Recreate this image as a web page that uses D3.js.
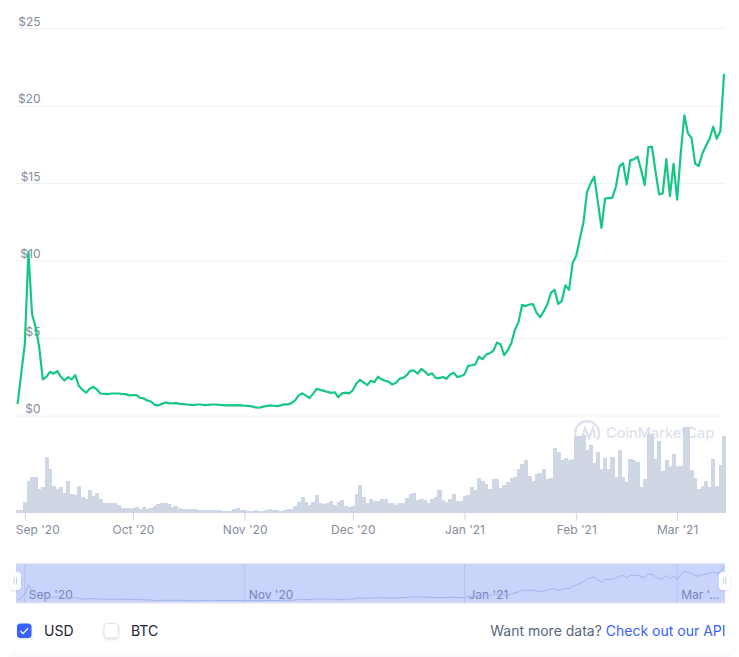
<!DOCTYPE html>
<html>
<head>
<meta charset="utf-8">
<script src="https://cdn.jsdelivr.net/npm/d3@7"></script>
<style>
  html, body { margin: 0; padding: 0; background: #fff; overflow: hidden; }
  text { font-family: Inter, sans-serif; }
</style>
</head>
<body>
<svg id="chart" width="739" height="657"></svg>
<script>
// daily close, USD, starting 30 Aug 2020
const prices = [
  0.75, 2.7, 4.6, 10.55, 6.55, 5.7, 4.4, 2.33, 2.5, 2.82,
  2.7, 2.87, 2.5, 2.26, 2.48, 2.33, 2.6, 1.9, 1.66, 1.47,
  1.72, 1.85, 1.68, 1.42, 1.4, 1.38, 1.42, 1.42, 1.42, 1.38,
  1.38, 1.3, 1.31, 1.31, 1.14, 1.1, 0.97, 0.9, 0.69, 0.65,
  0.75, 0.84, 0.8, 0.78, 0.8, 0.75, 0.73, 0.71, 0.69, 0.69,
  0.71, 0.71, 0.67, 0.69, 0.71, 0.71, 0.69, 0.67, 0.65, 0.67,
  0.65, 0.67, 0.65, 0.63, 0.62, 0.59, 0.52, 0.5, 0.56, 0.61,
  0.65, 0.63, 0.61, 0.65, 0.72, 0.72, 0.8, 0.98, 1.3, 1.43,
  1.28, 1.13, 1.41, 1.72, 1.65, 1.59, 1.52, 1.46, 1.5, 1.17,
  1.43, 1.48, 1.43, 1.63, 2.07, 2.3, 2.13, 1.96, 2.24, 2.15,
  2.5, 2.33, 2.24, 2.17, 2, 2.11, 2.37, 2.43, 2.61, 2.89,
  2.89, 2.7, 3, 2.83, 2.61, 2.72, 2.43, 2.41, 2.48, 2.37,
  2.65, 2.76, 2.48, 2.54, 2.65, 3.2, 3.24, 3.3, 3.8, 3.63,
  3.93, 4.02, 4.17, 4.7, 4.59, 3.89, 4.2, 4.68, 5.54, 6.04,
  7.14, 7.06, 7.16, 7.19, 6.62, 6.34, 6.73, 7.2, 7.92, 8.1,
  7.2, 7.38, 8.4, 8.1, 9.83, 10.3, 11.4, 12.47, 14.43, 14.98,
  15.41, 13.8, 12.1, 14, 14.02, 14.04, 14.76, 16.07, 16.28, 14.91,
  16.46, 16.52, 16.7, 15.85, 14.87, 17.3, 17.35, 15.74, 14.26, 14.33,
  16.54, 14.15, 16.24, 13.93, 16.93, 19.37, 18.2, 17.9, 16.24, 16.1,
  16.9, 17.4, 17.85, 18.63, 17.85, 18.35, 22.04
];

// daily volume, relative units
const volumes = [
  8, 8, 32, 95, 107, 107, 72, 77, 167, 131,
  80, 72, 77, 59, 95, 56, 53, 80, 47, 41,
  68, 50, 59, 41, 29, 29, 29, 29, 23, 14,
  14, 14, 14, 17, 11, 17, 11, 14, 20, 26,
  29, 29, 26, 17, 20, 14, 11, 11, 11, 11,
  8, 8, 8, 8, 8, 8, 8, 5, 5, 5,
  11, 14, 8, 8, 5, 5,
  8, 5, 5, 8, 11, 8, 8, 6, 8, 11,
  11, 20, 32, 47, 32, 23, 32, 53, 29, 26,
  29, 35, 23, 32, 38, 20, 17, 20, 56, 83,
  47, 29, 41, 35, 35, 41, 41, 29, 29, 23,
  29, 29, 44, 56, 59, 38, 41, 38, 29, 41,
  47, 68, 38, 32, 41, 56, 35, 35, 50, 53,
  77, 68, 104, 95, 86, 71,
  101, 101, 74, 83, 92, 104, 107, 131, 146, 158,
  110, 95, 116, 119, 131, 101, 104, 194, 182, 158,
  164, 158, 161, 230, 230, 233, 188, 203, 149, 182,
  131, 164, 131, 167, 107, 188, 107, 92, 161, 158,
  152, 77, 101, 236, 236, 161, 215, 125, 158, 140,
  176, 140, 140, 257, 257, 128, 104, 71, 80, 95,
  77, 161, 80, 143, 230
];

const priceTicks = [0, 5, 10, 15, 20, 25];
const monthTicks = ['2020-09-01', '2020-10-01', '2020-11-01', '2020-12-01', '2021-01-01', '2021-02-01', '2021-03-01'];
const navTicks = ['2020-09-01', '2020-11-01', '2021-01-01', '2021-03-01'];
const navLabels = ["Sep '20", "Nov '20", "Jan '21", "Mar '..."];

const startDay = new Date(Date.UTC(2020, 7, 30));
const days = prices.map((_, i) => d3.utcDay.offset(startDay, i));

const svg = d3.select('#chart');

const x = d3.scaleUtc().domain([days[0], days[days.length - 1]]).range([17.6, 724]);
const y = d3.scaleLinear().domain([0, 25]).range([415.5, 28]);
const yVol = d3.scaleLinear().domain([0, 300]).range([512.7, 412.7]);
const yNav = d3.scaleLinear().domain([0, 25]).range([601.5, 562]);
const barW = x(days[1]) - x(days[0]);

// grid + price labels
const yAxis = d3.axisLeft(y).tickValues(priceTicks).tickFormat(d => '$' + d).tickSize(0);
const gy = svg.append('g').attr('transform', 'translate(0,0)').call(yAxis);
gy.select('.domain').remove();
gy.selectAll('.tick').append('line')
  .attr('x1', 16).attr('x2', 725)
  .attr('stroke', '#eff2f5').attr('stroke-width', 1);
gy.selectAll('.tick text')
  .attr('x', 40.5).attr('dy', -3)
  .attr('text-anchor', 'end')
  .attr('font-size', 12).attr('font-family', 'Inter, sans-serif')
  .attr('fill', '#858ca0');

// watermark sits under the bars
const mark = svg.append('g');
mark.append('path').attr('d', 'M578 441 A12 12 0 1 1 597 440')
  .attr('fill', 'none').attr('stroke', '#dde2ec').attr('stroke-width', 2.4);
mark.append('path').attr('d', 'M581 441 L585 428 L589 438 L593 428 L595 438')
  .attr('fill', 'none').attr('stroke', '#dde2ec').attr('stroke-width', 2.2);
mark.append('text').attr('x', 606).attr('y', 438)
  .attr('font-size', 14.5).attr('font-weight', 500).attr('fill', '#dde2ec')
  .text('CoinMarketCap');

// volume bars
svg.append('g').attr('shape-rendering', 'crispEdges').selectAll('rect')
  .data(volumes)
  .join('rect')
  .attr('x', (d, i) => x(days[i]) - barW / 2)
  .attr('y', d => yVol(d))
  .attr('width', barW + 0.5)
  .attr('height', d => yVol(0) - yVol(d))
  .attr('fill', '#cfd6e4');

// price line
const line = d3.line().x((d, i) => x(days[i])).y(d => y(d));
svg.append('path').datum(prices)
  .attr('d', line)
  .attr('fill', 'none')
  .attr('stroke', '#16c784')
  .attr('stroke-width', 2.2)
  .attr('stroke-linejoin', 'round');

// month axis
const xAxis = d3.axisBottom(x)
  .tickValues(monthTicks.map(d => new Date(d + 'T00:00:00Z')))
  .tickFormat(d3.utcFormat("%b '%y"))
  .tickSize(8).tickPadding(5);
const gx = svg.append('g').attr('transform', 'translate(0,512.7)').call(xAxis);
gx.select('.domain').remove();
gx.selectAll('.tick line').attr('stroke', '#ccd6eb');
gx.selectAll('.tick text')
  .attr('font-size', 12).attr('font-family', 'Inter, sans-serif')
  .attr('fill', '#858ca0');
// first label gets pushed inside the plot, as in the original
gx.select('.tick text').attr('x', 12.5);

// navigator
svg.append('rect').attr('x', 16).attr('y', 563.5).attr('width', 709).attr('height', 39.5)
  .attr('fill', '#cad4fb');
svg.append('line').attr('x1', 16).attr('x2', 725).attr('y1', 563.5).attr('y2', 563.5)
  .attr('stroke', '#e6e8ee');
svg.append('line').attr('x1', 16).attr('x2', 725).attr('y1', 603).attr('y2', 603)
  .attr('stroke', '#e6e8ee');

const navDates = navTicks.map(d => new Date(d + 'T00:00:00Z'));
svg.append('g').selectAll('line')
  .data(navDates)
  .join('line')
  .attr('x1', d => x(d)).attr('x2', d => x(d))
  .attr('y1', 564).attr('y2', 603)
  .attr('stroke', '#b7c3ee');
svg.append('g').selectAll('text')
  .data(navDates)
  .join('text')
  .attr('x', d => x(d) + 4)
  .attr('y', 599)
  .attr('font-size', 12)
  .attr('fill', '#7684b8')
  .text((d, i) => navLabels[i]);

const navLine = d3.line().x((d, i) => x(days[i])).y(d => yNav(d));
svg.append('path').datum(prices)
  .attr('d', navLine)
  .attr('fill', 'none')
  .attr('stroke', '#a4b2e8')
  .attr('stroke-width', 1);

// navigator handles
const defs = svg.append('defs');
const shadow = defs.append('filter').attr('id', 'soft').attr('x', '-50%').attr('y', '-50%').attr('width', '200%').attr('height', '200%');
shadow.append('feDropShadow').attr('dx', 0).attr('dy', 1).attr('stdDeviation', 1.2)
  .attr('flood-color', '#58667e').attr('flood-opacity', 0.22);

[15.3, 724.5].forEach(cx => {
  svg.append('rect').attr('x', cx - 5.7).attr('y', 572).attr('width', 11.4).attr('height', 18)
    .attr('rx', 4).attr('fill', '#fff').attr('filter', 'url(#soft)');
  [-1.2, 1.2].forEach(dx => {
    svg.append('line').attr('x1', cx + dx).attr('x2', cx + dx).attr('y1', 577.5).attr('y2', 584.5)
      .attr('stroke', '#c4cad6').attr('stroke-width', 0.9);
  });
});

// USD / BTC toggles
svg.append('rect').attr('x', 17).attr('y', 623.5).attr('width', 14.5).attr('height', 14.5)
  .attr('rx', 3.5).attr('fill', '#3861fb').attr('filter', 'url(#soft)');
svg.append('path').attr('d', 'M20.5 631 L23 633.6 L28 628.2')
  .attr('fill', 'none').attr('stroke', '#fff').attr('stroke-width', 1.3);
svg.append('rect').attr('x', 104).attr('y', 623.5).attr('width', 14.5).attr('height', 14.5)
  .attr('rx', 3.5).attr('fill', '#fff').attr('stroke', '#e0e4ec').attr('filter', 'url(#soft)');
svg.append('text').attr('x', 44).attr('y', 636).attr('font-size', 14).attr('fill', '#222531').text('USD');
svg.append('text').attr('x', 131).attr('y', 636).attr('font-size', 14).attr('fill', '#222531').text('BTC');

const more = svg.append('text').attr('x', 725.5).attr('y', 636).attr('text-anchor', 'end').attr('font-size', 14);
more.append('tspan').attr('fill', '#58667e').text('Want more data? ');
more.append('tspan').attr('fill', '#3861fb').text('Check out our API');

// start of the next card below the chart
svg.append('rect').attr('x', 8).attr('y', 652).attr('width', 725).attr('height', 20)
  .attr('rx', 8).attr('fill', '#f8fafd');
</script>
</body>
</html>
